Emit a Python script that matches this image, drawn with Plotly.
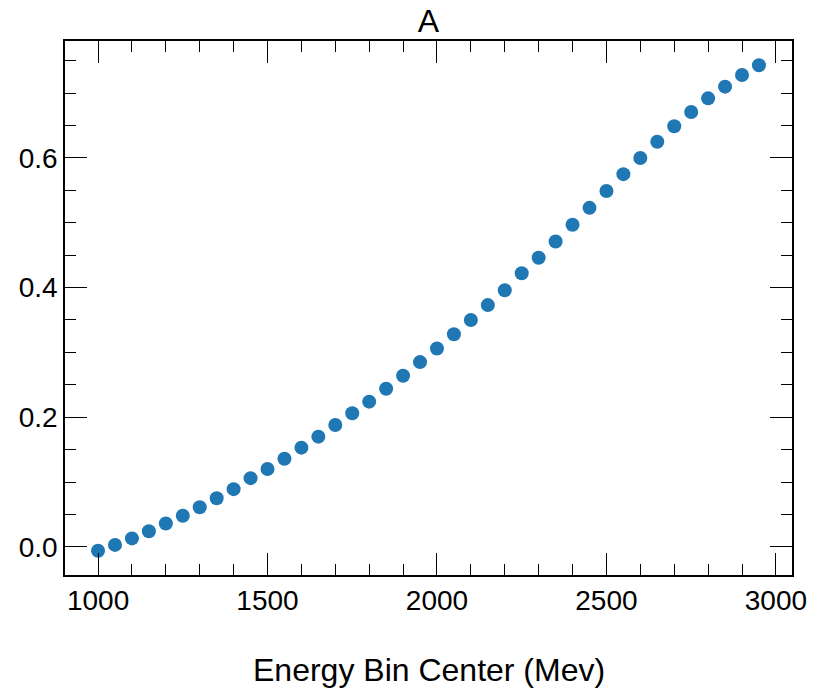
import plotly.graph_objects as go

energy = [1000, 1050, 1100, 1150, 1200, 1250, 1300, 1350, 1400, 1450,
          1500, 1550, 1600, 1650, 1700, 1750, 1800, 1850, 1900, 1950,
          2000, 2050, 2100, 2150, 2200, 2250, 2300, 2350, 2400, 2450,
          2500, 2550, 2600, 2650, 2700, 2750, 2800, 2850, 2900, 2950]
A_values = [-0.006, 0.003, 0.013, 0.024, 0.036, 0.048, 0.061, 0.075, 0.089, 0.106,
            0.120, 0.136, 0.153, 0.170, 0.188, 0.206, 0.224, 0.244, 0.264, 0.285,
            0.306, 0.328, 0.350, 0.373, 0.396, 0.422, 0.446, 0.471, 0.497, 0.523,
            0.549, 0.575, 0.600, 0.625, 0.649, 0.671, 0.692, 0.710, 0.728, 0.743]
x_ticks = [1000, 1500, 2000, 2500, 3000]
y_ticks = [0.0, 0.2, 0.4, 0.6]
title_text = "A"
x_label = "Energy Bin Center (Mev)"

xmin, xmax = min(energy), max(energy)
ymin, ymax = min(A_values), max(A_values)
xpad = 0.05 * (xmax - xmin)
ypad = 0.05 * (ymax - ymin)

FONT = "Liberation Sans, Arial, Helvetica, sans-serif"

fig = go.Figure()
fig.add_trace(go.Scatter(
    x=energy, y=A_values, mode="markers",
    marker=dict(color="#1f77b4", size=14, line=dict(width=0)),
    showlegend=False,
))

axis_common = dict(
    showline=True, linecolor="black", linewidth=1.6, mirror="allticks",
    ticks="inside", ticklen=22, tickwidth=1.4, tickcolor="black",
    showgrid=False, zeroline=False,
    tickfont=dict(family=FONT, size=28, color="black"),
)

fig.update_xaxes(
    range=[xmin - xpad, xmax + xpad],
    tickvals=x_ticks, ticktext=[str(v) for v in x_ticks],
    minor=dict(dtick=100, tick0=0, ticks="inside", ticklen=11, tickwidth=1.2,
               tickcolor="black", showgrid=False),
    **axis_common,
)
fig.update_yaxes(
    range=[ymin - ypad, ymax + ypad],
    tickvals=y_ticks, ticktext=[f"{v:.1f}" for v in y_ticks],
    minor=dict(dtick=0.05, tick0=0, ticks="inside", ticklen=11, tickwidth=1.2,
               tickcolor="black", showgrid=False),
    **axis_common,
)

fig.add_annotation(
    text=x_label, xref="paper", yref="paper", x=0.5, y=-(670 - 575) / 534,
    xanchor="center", yanchor="middle", showarrow=False,
    font=dict(family=FONT, size=32, color="black"),
)

fig.update_layout(
    width=825, height=691,
    margin=dict(l=65, r=33, t=41, b=116),
    paper_bgcolor="white", plot_bgcolor="white",
    title=dict(text=title_text, x=0.5 * (65 + 792) / 825, xanchor="center",
               y=(691 - 21) / 691, yanchor="middle", yref="container",
               font=dict(family=FONT, size=32, color="black")),
)

fig.write_html("out.html")
